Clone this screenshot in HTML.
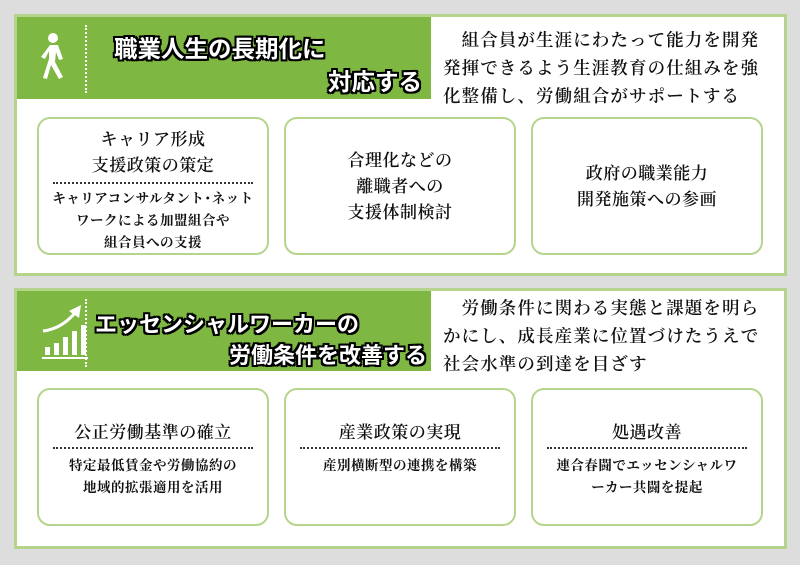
<!DOCTYPE html>
<html><head><meta charset="utf-8"><style>
*{margin:0;padding:0;box-sizing:border-box}
body{width:800px;height:565px;background:#dcdddc;position:relative;overflow:hidden;font-family:"Liberation Serif","Noto Serif CJK SC",serif;color:#222}
.panel{position:absolute;left:14px;width:773px;background:#fff;border:3px solid #b3d48a}
.hdr{position:absolute;left:0;top:0;width:414px;height:82px;background:#7fb743}
.ht{position:absolute;font-family:"Liberation Sans","Noto Sans CJK JP",sans-serif;font-weight:bold;font-size:22px;color:#fff;white-space:nowrap;
text-shadow:-2px -2px 0 #000,2px -2px 0 #000,-2px 2px 0 #000,2px 2px 0 #000,0 2px 0 #000,0 -2px 0 #000,2px 0 0 #000,-2px 0 0 #000}
.dv{position:absolute;left:68px;top:8px;height:68px;border-left:2px dotted #fff}
.desc{position:absolute;left:426px;font-size:17.5px;line-height:28px;letter-spacing:1.1px;font-weight:600;white-space:nowrap;font-family:"Noto Serif CJK SC","Liberation Serif",serif;color:#111}
.card{position:absolute;border:2.5px solid #b5d58c;border-radius:13px;width:232px;height:138px;text-align:center;font-family:"Noto Serif CJK SC",serif;color:#111}
.t{position:absolute;left:0;right:0;font-size:17px;line-height:24px;white-space:nowrap;font-weight:600;letter-spacing:0.5px}
.s{position:absolute;left:0;right:0;font-size:13.5px;line-height:22px;font-weight:bold;white-space:nowrap;letter-spacing:0.5px}
.d{position:absolute;left:14px;right:14px;border-top:2px dotted #333}
</style></head><body>
<div class="panel" style="top:14px;height:262px">
 <div class="hdr">
  <svg style="position:absolute;left:20px;top:14px" width="34" height="52" viewBox="0 0 34 52">
   <circle cx="16" cy="7" r="5" fill="#fff"/>
   <path d="M13 14 L21 14 L26 28 L22 29 L19 21 L18 31 L26 46 L22 48 L14 34 L10 48 L6 47 L12 28 L12 20 L8 28 L4 26 Z" fill="#fff"/>
  </svg>
  <div class="dv"></div>
  <div class="ht" style="left:97px;top:13px;font-size:23.5px">職業人生の長期化に</div>
  <div class="ht" style="left:311px;top:46px;font-size:23.5px">対応する</div>
 </div>
 <div class="desc" style="top:9px">　組合員が生涯にわたって能力を開発<br>発揮できるよう生涯教育の仕組みを強<br>化整備し、労働組合がサポートする</div>
 <div class="card" style="left:20px;top:100px">
  <div class="t" style="top:7px">キャリア形成</div><div class="t" style="top:33px">支援政策の策定</div>
  <div class="d" style="top:63px"></div>
  <div class="s" style="top:67px">キャリアコンサルタント･ネット</div><div class="s" style="top:89px">ワークによる加盟組合や</div><div class="s" style="top:111px">組合員への支援</div>
 </div>
 <div class="card" style="left:267px;top:100px">
  <div class="t" style="top:28px">合理化などの</div><div class="t" style="top:54px">離職者への</div><div class="t" style="top:80px">支援体制検討</div>
 </div>
 <div class="card" style="left:514px;top:100px">
  <div class="t" style="top:41px">政府の職業能力</div><div class="t" style="top:67px">開発施策への参画</div>
 </div>
</div>
<div class="panel" style="top:288px;height:261px">
 <div class="hdr" style="height:80px">
  <svg style="position:absolute;left:22px;top:10px" width="52" height="60" viewBox="0 0 52 60">
   <path d="M4 30 Q22 28 36 12" stroke="#fff" stroke-width="3" fill="none"/>
   <path d="M30 10 L42 4 L40 17 Z" fill="#fff"/>
   <rect x="6" y="46" width="5" height="8" fill="#fff"/><rect x="15" y="42" width="5" height="12" fill="#fff"/>
   <rect x="24" y="36" width="5" height="18" fill="#fff"/><rect x="33" y="30" width="5" height="24" fill="#fff"/>
   <rect x="42" y="24" width="5" height="30" fill="#fff"/><rect x="3" y="56" width="46" height="2" fill="#fff"/>
  </svg>
  <div class="dv"></div>
  <div class="ht" style="left:78px;top:16px">エッセンシャルワーカーの</div>
  <div class="ht" style="left:212px;top:47px">労働条件を改善する</div>
 </div>
 <div class="desc" style="top:3px">　労働条件に関わる実態と課題を明ら<br>かにし、成長産業に位置づけたうえで<br>社会水準の到達を目ざす</div>
 <div class="card" style="left:20px;top:97px">
  <div class="t" style="top:29px">公正労働基準の確立</div>
  <div class="d" style="top:57px"></div>
  <div class="s" style="top:63px">特定最低賃金や労働協約の</div><div class="s" style="top:85px">地域的拡張適用を活用</div>
 </div>
 <div class="card" style="left:267px;top:97px">
  <div class="t" style="top:29px">産業政策の実現</div>
  <div class="d" style="top:57px"></div>
  <div class="s" style="top:63px">産別横断型の連携を構築</div>
 </div>
 <div class="card" style="left:514px;top:97px">
  <div class="t" style="top:29px">処遇改善</div>
  <div class="d" style="top:57px"></div>
  <div class="s" style="top:63px">連合春闘でエッセンシャルワ</div><div class="s" style="top:85px">ーカー共闘を提起</div>
 </div>
</div>
</body></html>
